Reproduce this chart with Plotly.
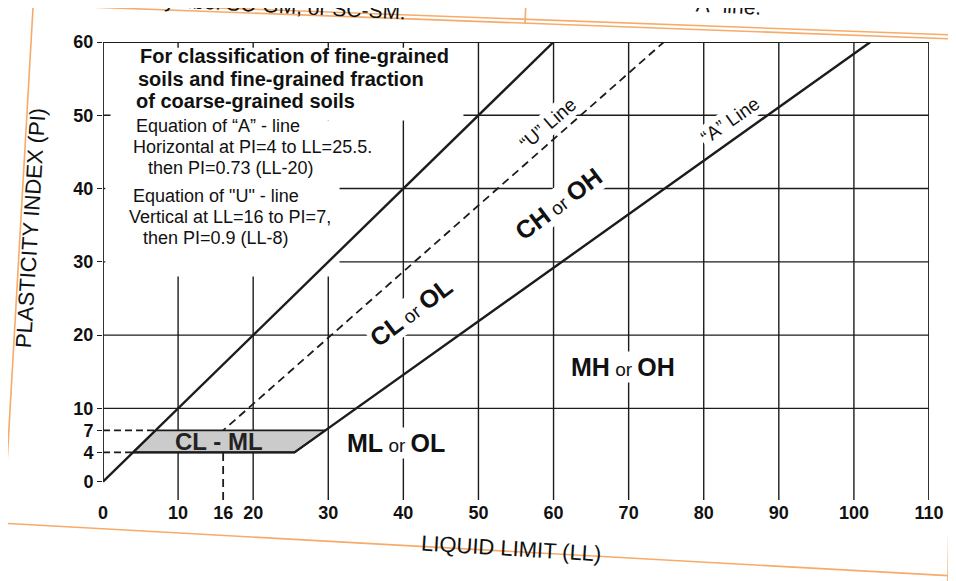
import plotly.graph_objects as go

# ---------------- data ----------------
ll_ticks = [0, 10, 16, 20, 30, 40, 50, 60, 70, 80, 90, 100, 110]
pi_ticks = [0, 4, 7, 10, 20, 30, 40, 50, 60]
grid_ll = [10, 20, 30, 40, 50, 60, 70, 80, 90, 100]
grid_pi = [10, 20, 30, 40, 50]

# PI = LL limit line
limit_ll = [0, 60]
limit_pi = [0, 60]
# "A" line: horizontal at PI=4 to LL=25.5, then PI = 0.73 (LL-20)
a_ll = [4, 25.5, 102.2]
a_pi = [4, 4, 60]
# "U" line: vertical at LL=16 to PI=7, then PI = 0.9 (LL-8)
u_ll = [16, 16, 74.7]
u_pi = [-2.5, 7, 60]
# CL-ML shaded zone
clml_ll = [4, 25.5, 29.6, 7, 4]
clml_pi = [4, 4, 7, 7, 4]
# dashed guides from the PI axis
g4_ll, g4_pi = [0, 4], [4, 4]
g7_ll, g7_pi = [0, 7], [7, 7]

# zone labels (LL, PI, first, second, angle)
zone_labels = [
    (41.0, 23.2, "CL", "OL", -37),
    (60.6, 37.9, "CH", "OH", -37),
    (69.3, 15.7, "MH", "OH", 0),
    (39.0, 5.3, "ML", "OL", 0),
]
line_labels = [
    (59.3, 48.9, "\u201cU\u201d Line", -41),
    (83.5, 49.3, "\u201cA\u201d Line", -35),
]

title_lines = ["For classification of fine-grained",
               "soils and fine-grained fraction",
               "of coarse-grained soils"]
eq_lines = ["Equation of \u201cA\u201d - line",
            "Horizontal at PI=4 to LL=25.5.",
            "then PI=0.73 (LL-20)",
            "Equation of \"U\" - line",
            "Vertical at LL=16 to PI=7,",
            "then PI=0.9 (LL-8)"]

# ---------------- layout geometry ----------------
# the page is shown with an 8px body margin, so the figure is 8px smaller
OFF = 8
W, H = 956 - OFF, 581 - OFF
# plot area in screen pixels
SL, SR, ST, SB = 103, 931, 42, 500
ML, MR, MT, MB = SL - OFF, W - (SR - OFF), ST - OFF, H - (SB - OFF)
YMIN = -2.5

def px(xs):
    return (xs - SL) / (SR - SL)

def py(ys):
    return (SB - ys) / (SB - ST)

INK = "#1c1c1c"
FONT = "Liberation Sans, Arial, Helvetica, sans-serif"
ORANGE = "#f7ab6a"

fig = go.Figure()

# U line (dashed)
fig.add_trace(go.Scatter(x=u_ll, y=u_pi, mode="lines",
                         line=dict(color=INK, width=1.8, dash="8px,5px"),
                         hoverinfo="skip", showlegend=False))
# dashed guides
for gx, gy in [(g4_ll, g4_pi), (g7_ll, g7_pi)]:
    fig.add_trace(go.Scatter(x=gx, y=gy, mode="lines",
                             line=dict(color=INK, width=1.6, dash="7px,4px"),
                             hoverinfo="skip", showlegend=False))
# CL-ML shaded zone
fig.add_trace(go.Scatter(x=clml_ll, y=clml_pi, mode="lines", fill="toself",
                         fillcolor="#cbcbcb", line=dict(color=INK, width=1.6),
                         hoverinfo="skip", showlegend=False))
# A line
fig.add_trace(go.Scatter(x=a_ll, y=a_pi, mode="lines",
                         line=dict(color=INK, width=2.4),
                         hoverinfo="skip", showlegend=False))
# PI = LL line
fig.add_trace(go.Scatter(x=limit_ll, y=limit_pi, mode="lines",
                         line=dict(color=INK, width=2.4),
                         hoverinfo="skip", showlegend=False))

shapes = []
for v in grid_ll:
    shapes.append(dict(type="line", xref="x", yref="y", x0=v, x1=v, y0=YMIN, y1=60,
                       line=dict(color=INK, width=1.4), layer="below"))
for h in grid_pi:
    shapes.append(dict(type="line", xref="x", yref="y", x0=0, x1=110, y0=h, y1=h,
                       line=dict(color=INK, width=1.4), layer="below"))
# white areas behind the explanatory text
shapes.append(dict(type="rect", xref="x", yref="y", x0=1, x1=48, y0=49.3, y1=59.2,
                   fillcolor="white", line=dict(width=0), layer="below"))
shapes.append(dict(type="rect", xref="x", yref="y", x0=0.3, x1=31.5, y0=28, y1=49.3,
                   fillcolor="white", line=dict(width=0), layer="below"))
# frame
shapes.append(dict(type="line", xref="x", yref="y", x0=0, x1=0, y0=0, y1=60,
                   line=dict(color=INK, width=1.8), layer="below"))
shapes.append(dict(type="line", xref="x", yref="y", x0=0, x1=110, y0=60, y1=60,
                   line=dict(color=INK, width=1.8), layer="below"))
shapes.append(dict(type="line", xref="x", yref="y", x0=110, x1=110, y0=YMIN, y1=60,
                   line=dict(color=INK, width=1.8), layer="below"))

# page (scan) decorations, in screen pixels
def pline(x0, y0, x1, y1, w=1.6):
    shapes.append(dict(type="line", xref="paper", yref="paper",
                       x0=px(x0), y0=py(y0), x1=px(x1), y1=py(y1),
                       line=dict(color=ORANGE, width=w), layer="above"))

pline(0, 0, 956, 35)
pline(33, 5, 956, 39)
pline(33, 5, 0, 581)
pline(527, 0, 526, 24)
pline(957, 170, 950, 581)
pline(0, 523, 956, 576)

annotations = []

def ann(text, x, y, size=18, bold=False, xref="paper", yref="paper", xanchor="center",
        angle=0, bg=None, color="#111111"):
    d = dict(text=("<b>%s</b>" % text) if bold else text, x=x, y=y, xref=xref, yref=yref,
             xanchor=xanchor, yanchor="middle", showarrow=False, textangle=angle,
             font=dict(family=FONT, size=size, color=color), align="left")
    if bg:
        d["bgcolor"] = bg
        d["borderpad"] = 1
    annotations.append(d)

# title block
title_pos = [(138, 56), (136, 78.5), (134, 101)]
for t, (x, y) in zip(title_lines, title_pos):
    ann(t, px(x), py(y), size=20, bold=True, xanchor="left")
# equation blocks
eq_pos = [(134, 126), (131, 147), (146, 168), (131, 196), (127, 217), (141, 238)]
for t, (x, y) in zip(eq_lines, eq_pos):
    ann(t, px(x), py(y), size=18, xanchor="left")

# zone labels
for x, y, a, b, ang in zone_labels:
    txt = "<b>%s</b><span style='font-size:19px'> or </span><b>%s</b>" % (a, b)
    ann(txt, x, y, size=25, xref="x", yref="y", angle=ang, bg="white")
ann("CL - ML", 15.5, 5.5, size=24, bold=True, xref="x", yref="y", color="#222222")
for x, y, t, ang in line_labels:
    ann(t, x, y, size=19, xref="x", yref="y", angle=ang, bg="white")

# axis titles (slightly tilted like the scanned page)
ann("PLASTICITY INDEX (PI)", px(31), py(228), size=22, angle=-86.5)
ann("LIQUID LIMIT (LL)", px(512), py(548), size=22, angle=3.5)

# cut-off text of the page above
ann("symbol SC-GM, or SC-SM.", px(152), py(5), size=21, xanchor="left", angle=3)
ann("\u201cA\u201d line.", px(688), py(5), size=21, xanchor="left", angle=3)

fig.update_layout(
    width=W, height=H,
    margin=dict(l=ML, r=MR, t=MT, b=MB),
    paper_bgcolor="white", plot_bgcolor="white",
    shapes=shapes, annotations=annotations, showlegend=False,
    xaxis=dict(range=[0, 110], tickvals=ll_ticks, ticktext=[str(v) for v in ll_ticks],
               showgrid=False, zeroline=False, showline=False, ticks="",
               tickfont=dict(family=FONT, size=18, color="#111111", weight="bold"),
               fixedrange=True),
    yaxis=dict(range=[YMIN, 60], tickvals=pi_ticks, ticktext=[str(v) for v in pi_ticks],
               showgrid=False, zeroline=False, showline=False, ticks="outside",
               ticklen=5, tickcolor=INK, tickwidth=1.4,
               tickfont=dict(family=FONT, size=18, color="#111111", weight="bold"),
               fixedrange=True),
)

fig.write_html("out.html")
